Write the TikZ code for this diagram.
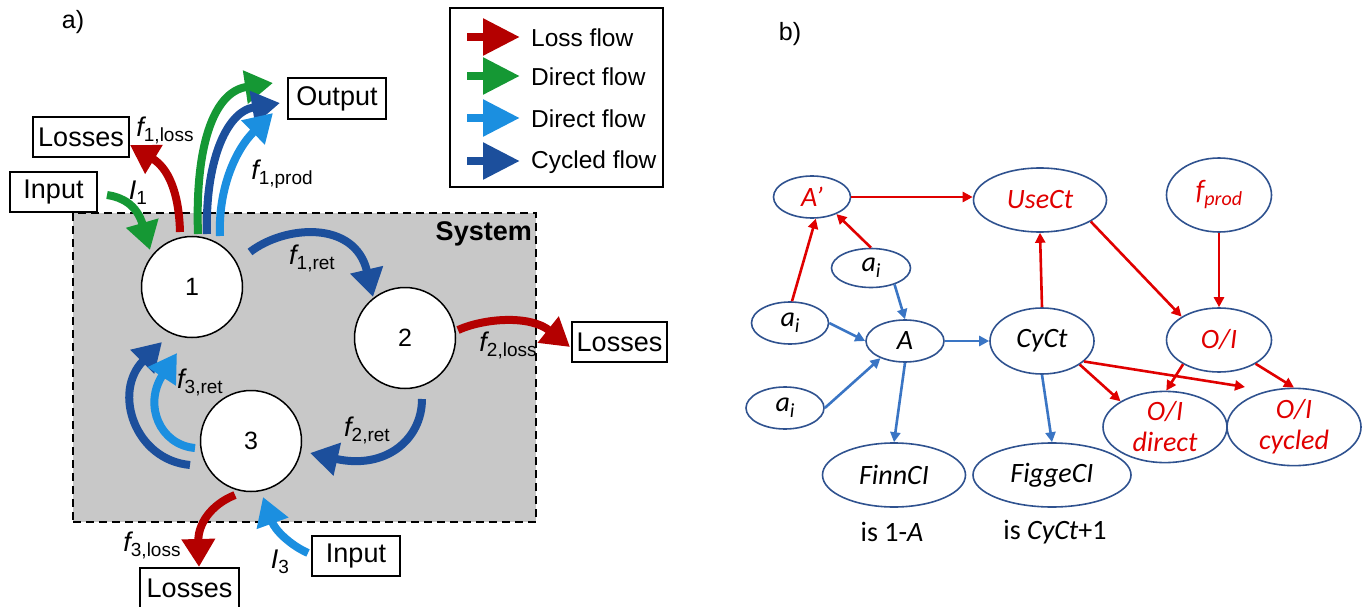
\documentclass[tikz,border=0pt]{standalone}
\usepackage{fontspec}
\setmainfont{Liberation Sans}
\newfontfamily\carl{Carlito}
\usetikzlibrary{arrows.meta,shapes.geometric}
\definecolor{lossred}{HTML}{B40000}
\definecolor{dirgreen}{HTML}{159834}
\definecolor{dirblue}{HTML}{1B8FE0}
\definecolor{cycblue}{HTML}{1C4F9C}
\definecolor{ellblue}{HTML}{2F528F}
\definecolor{arrred}{HTML}{E00000}
\definecolor{arrblue}{HTML}{3A75C4}
\definecolor{sysgray}{HTML}{C8C8C8}
\newcommand\flab[2]{{\fontsize{27}{27}\selectfont\itshape #1}\raisebox{-5pt}{\fontsize{19}{19}\selectfont #2}}
\newcommand\csub[2]{#1\raisebox{-6pt}{\fontsize{20}{20}\selectfont #2}}
\begin{document}
\begin{tikzpicture}[x=1pt,y=-1pt,
  flow/.style={line width=8pt,-{Triangle[width=32pt,length=28pt]}},
  legflow/.style={line width=8.5pt,-{Triangle[width=35pt,length=37pt]}},
  box/.style={draw,line width=1.5pt,minimum height=40pt,inner sep=0pt,font=\fontsize{27}{30}\selectfont},
  lab/.style={inner sep=0pt},
  stock/.style={circle,draw,fill=white,line width=1.5pt,minimum size=101pt,inner sep=0pt,font=\fontsize{25}{25}\selectfont},
  ell/.style={ellipse,draw=ellblue,line width=1.6pt,inner sep=0pt,font=\carl\itshape\fontsize{28}{31}\selectfont,align=center},
  redt/.style={text=arrred},
  ra/.style={arrred,line width=2.6pt,-{Triangle[width=10pt,length=10pt]}},
  ba/.style={arrblue,line width=2.6pt,-{Triangle[width=10pt,length=10pt]}}
]
\useasboundingbox (0,0) rectangle (1368,607);
% ---------- panel a ----------
\node[lab,font=\fontsize{25}{25}\selectfont] (la) at (73,22) {a)};
\node[draw,dashed,dash pattern=on 8pt off 5pt,line width=2pt,fill=sysgray,minimum width=463pt,minimum height=309pt,inner sep=0pt] (sys) at (304.5,367.5) {};
\node[lab,font=\bfseries\fontsize{27}{27}\selectfont,anchor=east] (systxt) at (532,234) {System};
\node[stock] (c1) at (192,287) {1};
\node[stock] (c2) at (405,338) {2};
\node[stock] (c3) at (251,441) {3};
\node[box,minimum width=96pt] (loss1) at (81,137) {Losses};
\node[box,minimum width=87pt] (in1) at (53.5,192) {Input};
\node[box,minimum width=98pt,minimum height=41pt] (out) at (337,98.5) {Output};
\node[box,minimum width=95pt] (loss2) at (619.5,342) {Losses};
\node[box,minimum width=99pt] (loss3) at (189.5,588) {Losses};
\node[box,minimum width=88pt] (in3) at (356,556) {Input};
% flows
\draw[flow,dirgreen] (107,195) .. controls (122,197) and (137,205) .. (150,250);
\draw[flow,lossred] (180,232) .. controls (179,192) and (168,168) .. (130,145);
\draw[flow,dirgreen] (198,234) .. controls (195,150) and (212,92) .. (273,83);
\draw[flow,cycblue] (207,234) .. controls (205,165) and (225,112) .. (280,103);
\draw[flow,dirblue] (220,236) .. controls (218,190) and (235,150) .. (273,113);
\draw[flow,cycblue] (250,252) .. controls (285,225) and (355,220) .. (373,297);
\draw[flow,lossred] (458,330) .. controls (485,318) and (530,315) .. (570,347);
\draw[flow,cycblue] (422,399) .. controls (422,440) and (385,470) .. (310,453);
\draw[flow,cycblue] (190,465) .. controls (135,460) and (112,392) .. (162,342);
\draw[flow,dirblue] (195,448) .. controls (160,445) and (143,405) .. (177,353);
\draw[flow,lossred] (235,495) .. controls (210,505) and (198,525) .. (199,567);
\draw[flow,dirblue] (308,553) .. controls (290,545) and (275,530) .. (263,497);
% labels
\node[lab] (fl1) at (165,130) {\flab{f}{1,loss}};
\node[lab] (i1) at (138,193) {\flab{I}{1}};
\node[lab] (fp1) at (282,174) {\flab{f}{1,prod}};
\node[lab] (fr1) at (312,258) {\flab{f}{1,ret}};
\node[lab] (fl2) at (508,345) {\flab{f}{2,loss}};
\node[lab] (fr2) at (367,430) {\flab{f}{2,ret}};
\node[lab] (fr3) at (200,382) {\flab{f}{3,ret}};
\node[lab] (fl3) at (152,545) {\flab{f}{3,loss}};
\node[lab] (i3) at (280,562) {\flab{I}{3}};
% legend
\node[draw,line width=2pt,minimum width=213pt,minimum height=179pt,inner sep=0pt] (leg) at (556.5,97.5) {};
\draw[legflow,lossred] (467,37) -- (520,37);
\draw[legflow,dirgreen] (467,76) -- (520,76);
\draw[legflow,dirblue] (467,118) -- (520,118);
\draw[legflow,cycblue] (467,161) -- (520,161);
\begin{scope}[every node/.style={lab,anchor=west,font=\fontsize{24.5}{24.5}\selectfont}]
\node (lg1) at (531,38) {Loss flow};
\node (lg2) at (531,77) {Direct flow};
\node (lg3) at (531,119) {Direct flow};
\node (lg4) at (531,162) {Cycled flow};
\end{scope}
% ---------- panel b ----------
\node[lab,font=\fontsize{25}{25}\selectfont] (lb) at (790,34) {b)};
\node[ell,redt,minimum width=77pt,minimum height=42pt] (Ap) at (812,197) {A’};
\node[ell,redt,minimum width=133pt,minimum height=64pt] (use) at (1040,200) {UseCt};
\node[ell,redt,minimum width=105pt,minimum height=74pt] (fprod) at (1219,195) {\csub{f}{prod}};
\node[ell,minimum width=79pt,minimum height=39pt] (aiu) at (871,268) {\csub{a}{i}};
\node[ell,minimum width=77pt,minimum height=42pt] (ail) at (790,323) {\csub{a}{i}};
\node[ell,minimum width=78pt,minimum height=42pt] (A) at (905,341) {A};
\node[ell,minimum width=104pt,minimum height=66pt] (cyct) at (1042,341) {CyCt};
\node[ell,redt,minimum width=105pt,minimum height=64pt] (oi) at (1219,340) {O/I};
\node[ell,minimum width=78pt,minimum height=42pt] (aid) at (785,408) {\csub{a}{i}};
\node[ell,minimum width=143pt,minimum height=64pt] (finn) at (894,475) {FinnCI};
\node[ell,minimum width=158pt,minimum height=64pt] (figge) at (1052,475) {FiggeCI};
\node[ell,redt,minimum width=124pt,minimum height=67pt] (oid) at (1165,427) {O/I\\direct};
\node[ell,redt,minimum width=134pt,minimum height=67pt] (oic) at (1294,427) {O/I\\cycled};
\node[lab,font=\carl\fontsize{28}{28}\selectfont] (t1) at (892,532) {is 1-\textit{A}};
\node[lab,font=\carl\fontsize{28}{28}\selectfont] (t2) at (1055,532) {is \textit{CyCt}+1};
\coordinate (free) at (1245,387);
% arrows
\draw[ra] (ail.north) ++(2,0) -- (Ap.-80);
\draw[ra] (aiu.north) -- (Ap.-35);
\draw[ra] (Ap.east) -- (use.west |- Ap.east);
\draw[ba] (aiu.-35) -- (A.north);
\draw[ba] (ail.east) -- (A.west);
\draw[ba] (aid.east) -- (A.-145);
\draw[ba] (A.east) -- (cyct.west);
\draw[ba] (A.south) -- (finn.north);
\draw[ra] (cyct.north) -- (use.south);
\draw[ba] (cyct.south) -- (figge.north);
\draw[ra] (use.-23) -- (oi.148);
\draw[ra] (fprod.south) -- (oi.north);
\draw[ra] (cyct.-32) -- (oid.150);
\draw[ra] (cyct.-26) -- (free);
\draw[ra] (oi.-146) -- (oid.88);
\draw[ra] (oi.-33) -- (oic.north);
\end{tikzpicture}
\end{document}
